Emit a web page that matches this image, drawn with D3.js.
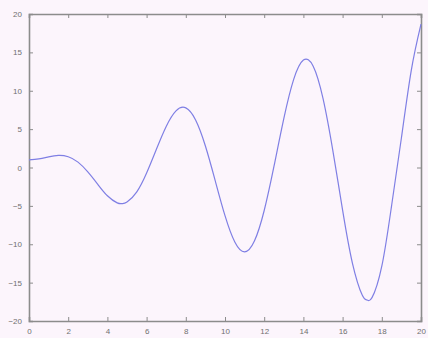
<!DOCTYPE html>
<html><head><meta charset="utf-8">
<script src="https://cdn.jsdelivr.net/npm/d3@7"></script>
<style>html,body{margin:0;padding:0;background:#fcf5fc;}svg{display:block;}</style>
</head><body><svg id="c" width="428" height="338"></svg>
<script>
const xValues = [0,0.5,1,1.5,2,2.5,3,3.5,4,4.5,4.75,5,5.5,6,6.5,7,7.5,8,8.5,9,9.5,10,10.5,11,11.5,12,12.5,13,13.5,14,14.5,15,15.5,16,16.5,17,17.25,17.5,18,18.5,19,19.5,20];
const yValues = [1.0,1.12,1.38,1.57,1.40,0.70,-0.57,-2.16,-3.68,-4.61,-4.71,-4.51,-3.17,-0.72,2.38,5.35,7.38,7.77,6.19,2.80,-1.71,-6.28,-9.71,-11.0,-9.59,-5.60,0.17,6.37,11.45,14.0,13.2,9.0,2.23,-5.56,-12.45,-16.62,-17.27,-16.96,-12.86,-4.96,3.84,12.6,18.67];
const xTicks = [0,2,4,6,8,10,12,14,16,18,20];
const yTicks = [-20,-15,-10,-5,0,5,10,15,20];

const svg = d3.select('#c');
const L=29,R=421,T=14,B=321;
const x = d3.scaleLinear().domain([0,20]).range([L,R]);
const y = d3.scaleLinear().domain([-20,20]).range([B,T]);
const grey = '#8c8c8c';
const tick = 4;

svg.append('rect').attr('x',0).attr('y',0).attr('width',428).attr('height',338).attr('fill','#fcf5fc');

const fontStyle = g => g.selectAll('text').attr('fill','#707070').style('font-family','Liberation Sans, Arial, sans-serif').style('font-size','8px');

const gb = svg.append('g').attr('transform',`translate(0,${B})`)
  .call(d3.axisBottom(x).tickValues(xTicks).tickSize(-tick).tickPadding(7).tickFormat(d3.format('d')));
const gt = svg.append('g').attr('transform',`translate(0,${T})`)
  .call(d3.axisTop(x).tickValues(xTicks).tickSize(-tick).tickFormat(''));
const gl = svg.append('g').attr('transform',`translate(${L},0)`)
  .call(d3.axisLeft(y).tickValues(yTicks).tickSize(-tick).tickPadding(7).tickFormat(d3.format('d')));
const gr = svg.append('g').attr('transform',`translate(${R},0)`)
  .call(d3.axisRight(y).tickValues(yTicks).tickSize(-tick).tickFormat(''));
[gb,gt,gl,gr].forEach(g=>{
  g.select('.domain').attr('stroke',grey).attr('stroke-width',1.6);
  g.selectAll('.tick line').attr('stroke',grey).attr('stroke-width',1);
  fontStyle(g);
});

const data = xValues.map((d,i)=>[d,yValues[i]]);
svg.append('path').datum(data)
  .attr('fill','none').attr('stroke','#7f7fe4').attr('stroke-width',1.2)
  .attr('d', d3.line().x(d=>x(d[0])).y(d=>y(d[1])).curve(d3.curveNatural));
</script></body></html>
